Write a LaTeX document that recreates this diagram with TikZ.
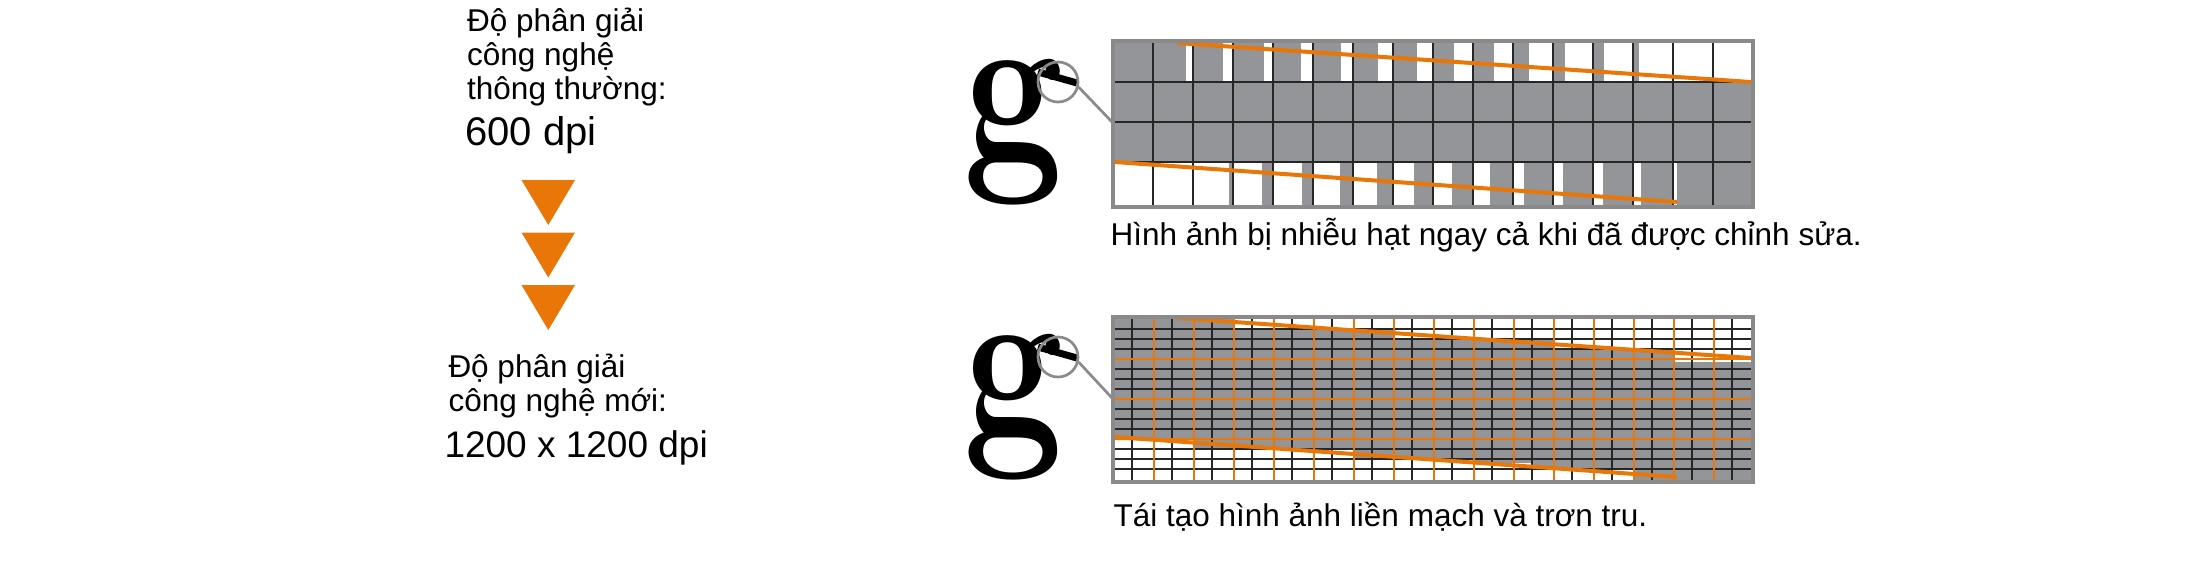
\documentclass[tikz,border=0pt]{standalone}
\usepackage{fontspec}
\setsansfont{Liberation Sans}
\usepackage{graphicx}
\definecolor{dotorange}{RGB}{232,119,8}
\definecolor{pixgray}{RGB}{147,149,152}
\definecolor{framegray}{RGB}{138,138,138}
\tikzset{
lefttext/.style={font=\sffamily\fontsize{31.5}{31.5}\selectfont, anchor=base west, inner sep=0pt},
dpitext/.style={font=\sffamily\fontsize{40}{40}\selectfont, anchor=base west, inner sep=0pt},
captiontext/.style={font=\sffamily\fontsize{31.5}{31.5}\selectfont, anchor=base west, inner sep=0pt},
cellline/.style={draw=black!85, line width=1.3pt},
orangeline/.style={draw=dotorange, line width=1.7pt},
edgeline/.style={draw=dotorange, line width=4pt},
frame/.style={draw=framegray, line width=3.3pt},
lensline/.style={draw=framegray, line width=2.7pt},
magnifier/.pic={
  \node[anchor=base west, inner ysep=0pt, inner xsep=8pt, font=\rmfamily\bfseries\fontsize{222}{222}\selectfont] (-g) at (-103,78) {\scalebox{0.8}[1]{g}};
  \draw[line width=7pt] (-20,-10) -- (19,1);
  \node[circle, lensline, minimum size=40pt, inner sep=0pt] (-lens) at (0,0) {};
  }
}

\begin{document}
\begin{tikzpicture}[x=1pt,y=-1pt]
\useasboundingbox (0,0) rectangle (2200,560);

% left side: resolutions
\node[lefttext] (oldA) at (467,31.7) {Độ phân giải};
\node[lefttext] (oldB) at (467,65.5) {công nghệ};
\node[lefttext] (oldC) at (467,99.5) {thông thường:};
\node[dpitext] (olddpi) at (465,145) {600 dpi};
\foreach \t in {180,232.5,285}
  \fill[dotorange] (521.5,\t) -- (575,\t) -- (548.3,\t+45) -- cycle;
\node[lefttext] (newA) at (448.3,377.7) {Độ phân giải};
\node[lefttext] (newB) at (448.3,411) {công nghệ mới:};
\node[dpitext, font=\sffamily\fontsize{37}{37}\selectfont] (newdpi) at (444.3,457.3) {1200 x 1200 dpi};

% 600 dpi grid
\pic (magA) at (1058,82) {magnifier};
\coordinate (gridAin) at (1112,122);
\draw[lensline] (magA-lens.-14) -- (gridAin);
\fill[pixgray] (1113,82) rectangle (1753,162);
\foreach \w [count=\i from 0] in {40,32.7,30,30.7,28.3,27.7,25.3,24,21.3,20.6,15.6,12.3,10.6,5.6,0,0}
  \fill[pixgray] (1113+40*\i,41) rectangle ++(\w,41);
\foreach \w [count=\i from 0] in {0,0,4,11,11,12.7,16,19.3,21,23.3,29.3,30,30,32,36,40}
  \fill[pixgray] (1153+40*\i,162) rectangle ++(-\w,45);
\foreach \x in {1153,1193,...,1713}
  \draw[cellline] (\x,41) -- (\x,207);
\foreach \y in {82,122,162}
  \draw[cellline] (1113,\y) -- (1753,\y);
\draw[edgeline] (1177,43) -- (1751,82);
\draw[edgeline] (1115,162) -- (1677,202);
\draw[frame] (1113,41) rectangle (1753,207);
\node[captiontext] (capA) at (1110.5,245) {Hình ảnh bị nhiễu hạt ngay cả khi đã được chỉnh sửa.};

% 1200 x 1200 dpi grid
\pic (magB) at (1058,357) {magnifier};
\coordinate (gridBin) at (1112,398);
\draw[lensline] (magB-lens.-14) -- (gridBin);
\fill[pixgray] (1113,317) -- (1233,317) -- (1233,329) -- (1393,329) -- (1393,339)
  -- (1553,339) -- (1553,349) -- (1673,349) -- (1673,362) -- (1753,362)
  -- (1753,482) -- (1633,482) -- (1633,469) -- (1533,469) -- (1533,463)
  -- (1473,463) -- (1473,459) -- (1353,459) -- (1353,449) -- (1193,449)
  -- (1193,440) -- (1113,440) -- cycle;
\foreach \x in {1132,1172,...,1732}
  \draw[cellline] (\x,317) -- (\x,482);
\foreach \y in {329,339,...,469}
  \draw[cellline] (1113,\y) -- (1753,\y);
\foreach \x in {1154,1194,...,1714}
  \draw[orangeline] (\x,317) -- (\x,482);
\foreach \y in {359,399,439}
  \draw[orangeline] (1113,\y) -- (1753,\y);
\draw[edgeline] (1177,318) -- (1751,358);
\draw[edgeline] (1115,437) -- (1677,477);
\draw[frame] (1113,317) rectangle (1753,482);
\node[captiontext] (capB) at (1113.4,526.7) {Tái tạo hình ảnh liền mạch và trơn tru.};
\end{tikzpicture}
\end{document}
